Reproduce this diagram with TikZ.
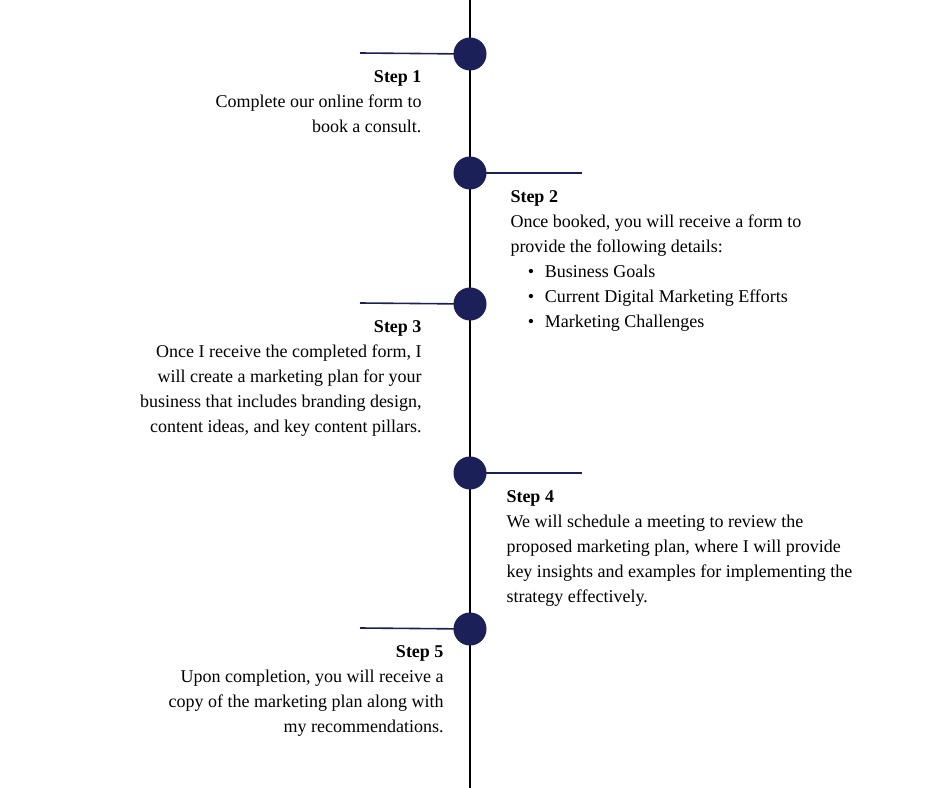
\documentclass[tikz,border=0pt]{standalone}
\usepackage{fontspec}
\setmainfont{Liberation Serif}
\definecolor{navy}{RGB}{28,32,88}
\tikzset{every picture/.style={line width=0.75pt}}
\tikzset{
  dot/.style={circle,fill=navy,minimum size=24pt,inner sep=0pt},
  tick/.style={navy,line width=1.2pt},
  steptext/.style={inner sep=0pt,font=\fontsize{13.5}{18.75}\selectfont},
}
\begin{document}
\begin{tikzpicture}[x=0.75pt,y=0.75pt,yscale=-1,xscale=1]
\useasboundingbox (0,0) rectangle (940,788);
% timeline
\coordinate (top) at (470,0);
\coordinate (bot) at (470,788);
\draw [line width=1.5pt] (top) -- (bot);
% ticks
\coordinate (t1) at (360,53);
\coordinate (t2) at (582,173);
\coordinate (t3) at (360,303);
\coordinate (t4) at (582,473);
\coordinate (t5) at (360,628);
\node [dot] (d1) at (470,54) {};
\node [dot] (d2) at (470,173) {};
\node [dot] (d3) at (470,304) {};
\node [dot] (d4) at (470,473) {};
\node [dot] (d5) at (470,629) {};
\draw [tick] (t1) -- (d1.center);
\draw [tick] (d2.center) -- (t2);
\draw [tick] (t3) -- (d3.center);
\draw [tick] (d4.center) -- (t4);
\draw [tick] (t5) -- (d5.center);
\draw [navy] (d1) circle (12pt) (d2) circle (12pt) (d3) circle (12pt) (d4) circle (12pt) (d5) circle (12pt);
\fill [navy] (d1) circle (12pt) (d2) circle (12pt) (d3) circle (12pt) (d4) circle (12pt) (d5) circle (12pt);
% texts
\node [steptext,anchor=north east,align=right] (s1) at (422,70) {\textbf{Step 1}\\Complete our online form to\\book a consult.};
\node [steptext,anchor=north west,align=left] (s2) at (510,190) {\textbf{Step 2}\\Once booked, you will receive a form to\\provide the following details:\\
\hspace*{13pt}\textbullet\hspace{8pt}Business Goals\\
\hspace*{13pt}\textbullet\hspace{8pt}Current Digital Marketing Efforts\\
\hspace*{13pt}\textbullet\hspace{8pt}Marketing Challenges};
\node [steptext,anchor=north east,align=right] (s3) at (422,320) {\textbf{Step 3}\\Once I receive the completed form, I\\will create a marketing plan for your\\business that includes branding design,\\content ideas, and key content pillars.};
\node [steptext,anchor=north west,align=left] (s4) at (506,490) {\textbf{Step 4}\\We will schedule a meeting to review the\\proposed marketing plan, where I will provide\\key insights and examples for implementing the\\strategy effectively.};
\node [steptext,anchor=north east,align=right] (s5) at (444,645) {\textbf{Step 5}\\Upon completion, you will receive a\\copy of the marketing plan along with\\my recommendations.};
\end{tikzpicture}
\end{document}
